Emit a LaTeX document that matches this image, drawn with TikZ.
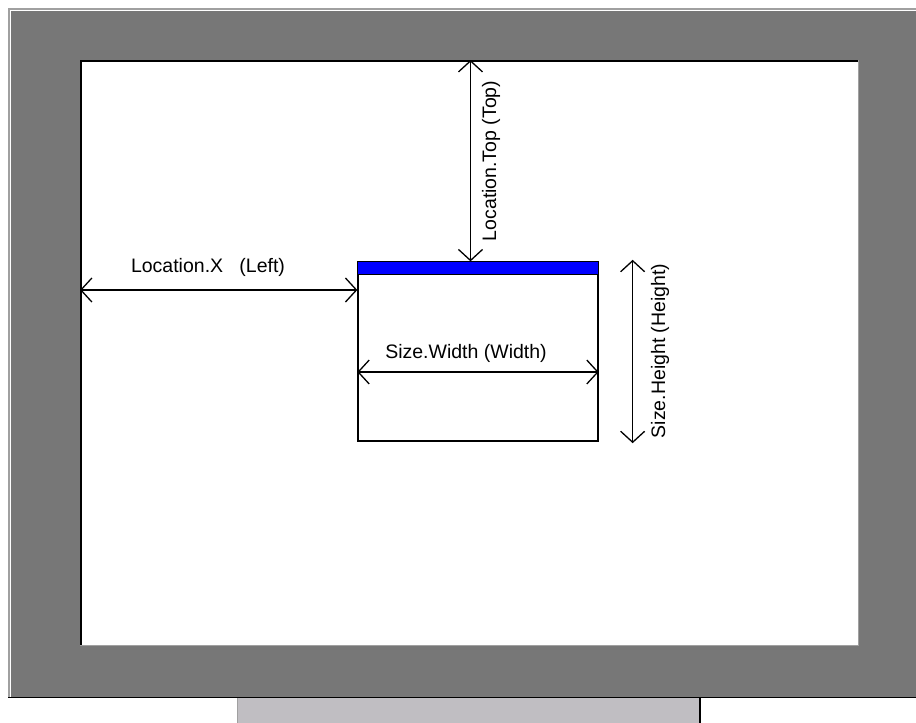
\documentclass[tikz,border=0pt]{standalone}
\usepackage{fontspec}
\setmainfont{Liberation Sans}
\usetikzlibrary{arrows.meta}
\definecolor{framegray}{RGB}{119,119,119}
\definecolor{edgegray}{RGB}{160,160,160}
\definecolor{tabgray}{RGB}{192,190,194}
\definecolor{barblue}{RGB}{0,0,255}
\begin{document}
\begin{tikzpicture}[
x=1pt, y=-1pt,
every node/.style={
font=\fontsize{19.5}{23}\selectfont,
inner sep=0pt
},
dim/.style={
{Straight Barb[length=11pt,width=24pt]}-{Straight Barb[length=11pt,width=24pt]},
line width=1.3pt
}
]
\useasboundingbox (0,0) rectangle (916,723);

% monitor frame
\fill[framegray] (8,8) rectangle (916,697);
\draw[edgegray, line width=1.5pt] (8.75,697) -- (8.75,8.75) -- (916,8.75);
\draw[white, line width=1.5pt] (10.5,697) -- (10.5,10.5) -- (916,10.5);
\draw[black, line width=1.5pt] (8,697.25) -- (916,697.25);

% screen
\fill[white] (80,60) rectangle (859,646);
\draw[black, line width=1.5pt] (80.75,646) -- (80.75,60.75) -- (859,60.75);
\draw[edgegray, line width=1.5pt] (80,645.25) -- (858.25,645.25) -- (858.25,60);

% stand
\fill[tabgray] (237,698) rectangle (700,723);
\draw[edgegray, line width=1pt] (237.5,698) -- (237.5,723);
\draw[black, line width=1.5pt] (700,698) -- (700,723);

% form
\node[draw, line width=1.3pt, minimum width=240pt, minimum height=179pt] (win) at (478,351.5) {};
\fill[barblue] (win.north west) rectangle ([yshift=-13pt]win.north east);
\draw[line width=1.3pt] (win.north west) rectangle ([yshift=-13pt]win.north east);

\coordinate (scrL) at (80,290);
\coordinate (scrT) at (470.5,60);

\node (lblX) at (208,267) {Location.X\ \ \ (Left)};
\node[rotate=90] (lblTop) at (491,161) {Location.Top (Top)};
\node (lblW) at (466,353) {Size.Width (Width)};
\node[rotate=90] (lblH) at (660,351) {Size.Height (Height)};

\draw[dim] (scrL) -- (scrL -| win.west);
\draw[dim] (scrT) -- (scrT |- win.north);
\draw[dim] ([yshift=-20.5pt]win.west) -- ([yshift=-20.5pt]win.east);
\draw[dim] ([xshift=34pt,yshift=1.5pt]win.north east) -- ([xshift=34pt,yshift=-1.5pt]win.south east);

\end{tikzpicture}
\end{document}
